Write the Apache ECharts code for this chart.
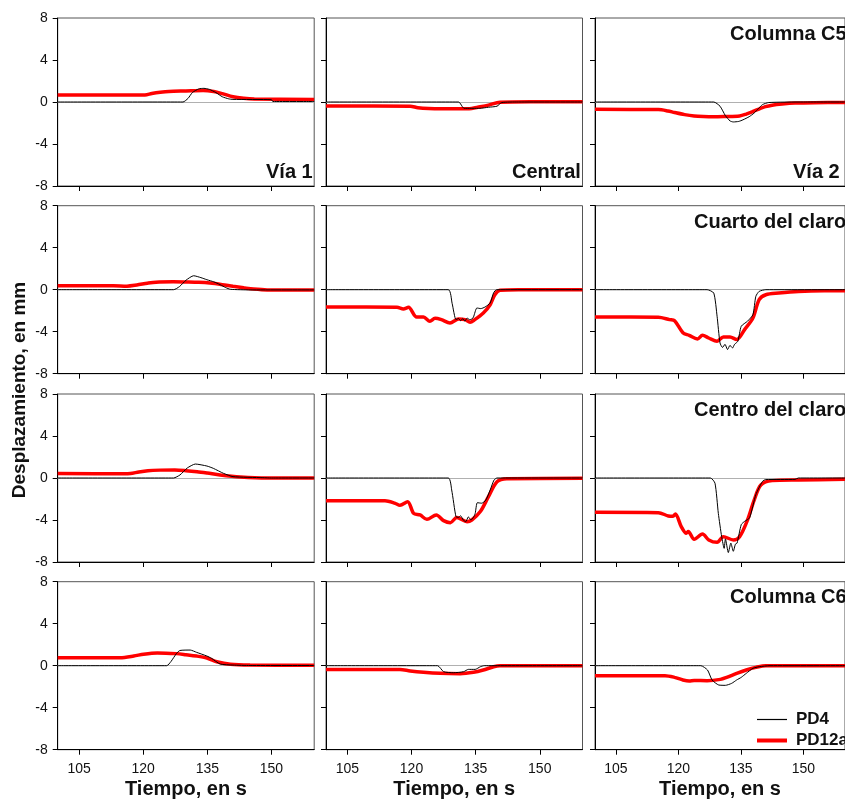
<!DOCTYPE html>
<html><head><meta charset="utf-8">
<script src="https://cdn.jsdelivr.net/npm/echarts@6/dist/echarts.min.js"></script>
<style>html,body{margin:0;padding:0;background:#fff}#c{width:845px;height:803px}</style>
</head><body><div id="c"></div>
<script>
// ---- axis ticks ----
const xTicks = [105, 120, 135, 150];
const yTicks = [-8, -4, 0, 4, 8];

// ---- data: [time s, displacement mm] ----
// Row 1: Columna C5
const via1_C5_PD4 = [[100,0],[129.3,0],[130.5,0.35],[131.5,0.9],[133,1.25],[134.2,1.3],[135.5,1.2],[137,0.9],[138.5,0.5],[140,0.3],[141,0.25],[150,0.22],[150.3,0.05],[160,0.05]];
const via1_C5_PD12a = [[100,0.67],[120.4,0.67],[122,0.8],[124,0.92],[126,1.0],[130,1.05],[134,1.1],[136.5,1.0],[138.5,0.8],[141,0.5],[143.5,0.35],[146,0.28],[160,0.25]];
const central_C5_PD4 = [[100,0],[131,0],[132.3,-0.6],[136,-0.6],[138,-0.5],[140,-0.4],[141.1,-0.05],[145,0],[160,0]];
const central_C5_PD12a = [[100,-0.38],[119.7,-0.4],[121.5,-0.55],[124,-0.62],[130.5,-0.65],[133.5,-0.65],[135.5,-0.5],[138,-0.3],[140.7,-0.02],[150,0.02],[160,0.03]];
const via2_C5_PD4 = [[100,0],[128.5,0],[130,-0.4],[131.3,-1.3],[132.4,-1.8],[133.2,-1.9],[134.5,-1.85],[135.5,-1.7],[137,-1.4],[138.2,-1.05],[139.3,-0.6],[140.2,-0.25],[141.7,-0.05],[150,0],[160,0]];
const via2_C5_PD12a = [[100,-0.7],[115.2,-0.72],[117.5,-0.85],[119.1,-1.0],[121.5,-1.2],[123.8,-1.33],[126,-1.38],[128.5,-1.4],[131,-1.38],[134.7,-1.33],[136.3,-1.15],[137.8,-0.92],[139.5,-0.65],[140.9,-0.44],[142.5,-0.3],[144.9,-0.19],[148,-0.1],[152.7,-0.06],[160,-0.05]];
// Row 2: Cuarto del claro
const via1_CU_PD4 = [[100,0],[127.1,0],[128.5,0.3],[130,0.9],[131.8,1.33],[133.5,1.15],[134.9,0.95],[136.5,0.75],[138,0.48],[139.3,0.2],[140.4,0.04],[145,-0.02],[160,-0.02]];
const via1_CU_PD12a = [[100,0.38],[113,0.38],[116.2,0.34],[118.5,0.45],[121,0.62],[123,0.72],[127,0.75],[130,0.73],[133,0.7],[135.6,0.63],[138.5,0.48],[141,0.32],[143.5,0.18],[145.8,0.06],[149,-0.02],[160,-0.02]];
const central_CU_PD4 = [[100,0],[128.6,0],[129.5,-1.3],[130.4,-2.85],[131,-2.75],[131.5,-2.95],[132,-2.75],[132.5,-3.0],[133,-2.7],[133.6,-2.85],[134.1,-2.8],[134.5,-2.6],[135.3,-1.74],[136.2,-1.8],[137.2,-1.65],[138.4,-1.27],[139.2,-0.3],[139.9,0],[160,0]];
const central_CU_PD12a = [[100,-1.65],[116.6,-1.68],[118.1,-1.84],[119.3,-1.68],[121.2,-2.6],[122.8,-2.6],[124.3,-3.0],[125.5,-2.72],[127,-2.85],[129,-3.17],[131,-2.79],[132.5,-2.85],[133.7,-3.1],[134.8,-2.85],[136.8,-2.22],[138.4,-1.43],[139.5,-0.48],[140.7,-0.06],[145,0],[160,0]];
const via2_CU_PD4 = [[100,0],[126.9,0],[128.5,-0.32],[129.3,-2.53],[130,-5.07],[130.6,-5.5],[131.2,-5.2],[131.8,-5.7],[132.4,-5.3],[133,-5.55],[133.5,-5.2],[134.3,-4.9],[135.1,-3.48],[136.6,-3.0],[137.9,-2.38],[138.6,-0.63],[139.4,-0.16],[141,0],[160,0]];
const via2_CU_PD12a = [[100,-2.6],[115.2,-2.62],[117.9,-2.85],[119.1,-2.95],[121.1,-4.1],[122.6,-4.34],[124.6,-4.69],[125.8,-4.34],[127.3,-4.6],[129.3,-4.9],[130.8,-4.5],[132.4,-4.5],[134,-4.75],[135.9,-3.8],[137.9,-2.7],[139.4,-0.95],[141,-0.48],[144.1,-0.32],[148.8,-0.16],[155,-0.1],[160,-0.1]];
// Row 3: Centro del claro
const via1_CE_PD4 = [[100,0],[127.1,0],[128.6,0.29],[130.3,0.95],[132.2,1.33],[134.9,1.14],[136.4,0.92],[138.8,0.44],[141,0.13],[148,0.03],[150,0],[160,0]];
const via1_CE_PD12a = [[100,0.44],[115.4,0.4],[117,0.42],[119,0.58],[121.1,0.7],[124,0.75],[127.4,0.76],[130,0.7],[132.6,0.6],[135,0.47],[138,0.29],[142.7,0.1],[149,0],[160,0]];
const central_CE_PD4 = [[100,0],[128.6,0],[129.4,-1.14],[130.4,-3.68],[131,-3.75],[131.5,-3.6],[132.1,-4.0],[132.7,-4.16],[133.3,-3.7],[133.9,-4.0],[134.5,-3.75],[134.9,-3.37],[135.4,-2.35],[136.4,-2.4],[137.4,-2.1],[138.4,-1.14],[139.3,-0.2],[140,0],[160,0]];
const central_CE_PD12a = [[100,-2.16],[113.8,-2.16],[116.2,-2.41],[117.3,-2.6],[119.1,-2.25],[120.5,-3.37],[122,-3.52],[123.6,-3.94],[125.8,-3.52],[127.5,-4.06],[129.1,-4.25],[130.6,-3.75],[133,-4.16],[134.1,-4.0],[136.1,-3.2],[138,-1.78],[140,-0.35],[142.3,-0.06],[160,-0.03]];
const via2_CE_PD4 = [[100,0],[127.7,0],[128.8,-0.5],[129.6,-3.37],[130.4,-5.59],[131,-6.7],[131.3,-5.8],[132,-7.1],[132.6,-6.2],[133.2,-6.98],[133.7,-6.3],[134.1,-6.2],[135.1,-4.44],[135.9,-4.13],[137.1,-3.8],[138.6,-1.59],[140.2,-0.32],[141,-0.15],[148,-0.13],[148.8,0],[160,0]];
const via2_CE_PD12a = [[100,-3.27],[115.2,-3.3],[117.6,-3.62],[118.7,-3.65],[119.3,-3.43],[120.7,-4.63],[121.9,-5.27],[122.4,-5.1],[123.8,-5.84],[125.8,-5.33],[127.3,-5.9],[129.3,-6.13],[130.8,-5.59],[133.2,-5.9],[134.7,-5.59],[136.6,-4.0],[138.2,-2.1],[139.8,-0.67],[142.5,-0.25],[148.8,-0.19],[160,-0.13]];
// Row 4: Columna C6
const via1_C6_PD4 = [[100,0],[125.5,0],[126.5,0.4],[127.8,1.17],[128.6,1.45],[131,1.49],[132.5,1.27],[134.9,0.92],[136,0.7],[138,0.16],[141,0.06],[145,0.02],[160,0.02]];
const via1_C6_PD12a = [[100,0.76],[114.6,0.76],[117.8,0.92],[120.1,1.1],[123.3,1.22],[127.8,1.15],[130,1.05],[132.5,0.92],[134.9,0.73],[137.2,0.38],[140.4,0.13],[145,0.06],[160,0.05]];
const central_C6_PD4 = [[100,0],[126.1,0],[127.5,-0.57],[129.8,-0.67],[132.2,-0.57],[133.3,-0.35],[134.9,-0.35],[136.1,-0.1],[137,0],[160,0]];
const central_C6_PD12a = [[100,-0.35],[117.3,-0.35],[119.7,-0.5],[122.8,-0.63],[126.7,-0.73],[131.4,-0.76],[134.5,-0.63],[136.8,-0.41],[139.2,-0.1],[140.7,0],[160,0]];
const via2_C6_PD4 = [[100,0],[125.4,0],[127,-0.41],[128.1,-1.36],[129.7,-1.84],[131.3,-1.87],[132.8,-1.68],[134,-1.36],[135.1,-1.11],[136.3,-0.73],[137.9,-0.25],[139.4,-0.1],[142,0],[160,0]];
const via2_C6_PD12a = [[100,-0.95],[116.8,-0.95],[119.1,-1.11],[121.1,-1.36],[122.6,-1.46],[123.8,-1.4],[126.9,-1.43],[130.1,-1.3],[131.6,-1.11],[134,-0.73],[136.3,-0.41],[138.6,-0.16],[141,0],[160,0]];

const panelPD4 = [via1_C5_PD4, central_C5_PD4, via2_C5_PD4, via1_CU_PD4, central_CU_PD4, via2_CU_PD4, via1_CE_PD4, central_CE_PD4, via2_CE_PD4, via1_C6_PD4, central_C6_PD4, via2_C6_PD4];
const panelPD12a = [via1_C5_PD12a, central_C5_PD12a, via2_C5_PD12a, via1_CU_PD12a, central_CU_PD12a, via2_CU_PD12a, via1_CE_PD12a, central_CE_PD12a, via2_CE_PD12a, via1_C6_PD12a, central_C6_PD12a, via2_C6_PD12a];

const seriesNames = ['PD4', 'PD12a'];
const xTitle = 'Tiempo, en s';
const yTitle = 'Desplazamiento, en mm';

// ---- layout ----
const colLeft = [57.7, 326, 595];
const rowTop = [18, 205.7, 394, 581.7];
const W = 256.5, H = 168;
const FONT = '"Liberation Sans", Arial, sans-serif';

const grids = [], xAxes = [], yAxes = [], series = [];
for (let r = 0; r < 4; r++) {
  for (let c = 0; c < 3; c++) {
    const i = r * 3 + c;
    grids.push({ left: colLeft[c], top: rowTop[r], width: W, height: H, show: true, borderColor: '#555', borderWidth: 1, containLabel: false });
    xAxes.push({
      type: 'value', gridIndex: i, min: 100, max: 160,
      axisLine: { show: true, onZero: false, lineStyle: { color: '#000', width: 1 } },
      axisTick: { show: true, customValues: xTicks, length: 5, lineStyle: { color: '#000' } },
      axisLabel: { show: r === 3, customValues: xTicks, fontSize: 14, color: '#111', fontFamily: FONT, margin: 12 },
      splitLine: { show: false },
      name: r === 3 ? xTitle : '', nameLocation: 'middle', nameGap: 30,
      nameTextStyle: { fontSize: 20, fontWeight: 'bold', color: '#111', fontFamily: FONT }
    });
    yAxes.push({
      type: 'value', gridIndex: i, min: -8, max: 8, interval: 4,
      axisLine: { show: true, onZero: false, lineStyle: { color: '#000', width: 1 } },
      axisTick: { show: true, length: 5, lineStyle: { color: '#000' } },
      axisLabel: { show: c === 0, fontSize: 14, color: '#111', fontFamily: FONT, margin: 10 },
      splitLine: { show: false }
    });
    series.push({
      type: 'line', name: seriesNames[1], xAxisIndex: i, yAxisIndex: i, data: panelPD12a[i],
      symbol: 'none', smooth: 0.3, lineStyle: { color: '#ff0000', width: 3.5 }, itemStyle: { color: '#ff0000' }, z: 2,
      markLine: { silent: true, symbol: 'none', z: 1, label: { show: false }, lineStyle: { color: '#b0b0b0', width: 1, type: 'solid' }, data: [{ yAxis: 0 }], animation: false }
    });
    series.push({
      type: 'line', name: seriesNames[0], xAxisIndex: i, yAxisIndex: i, data: panelPD4[i],
      symbol: 'none', smooth: 0.2, lineStyle: { color: '#000', width: 1 }, itemStyle: { color: '#000' }, z: 3
    });
  }
}

const titleFont = 'bold 20px ' + FONT;
const panelTitles = [
  { text: 'Vía 1', x: 266, y: 172 },
  { text: 'Central', x: 512, y: 172 },
  { text: 'Vía 2', x: 793, y: 172 },
  { text: 'Columna C5', x: 730, y: 34 },
  { text: 'Cuarto del claro', x: 694, y: 222 },
  { text: 'Centro del claro', x: 694, y: 410 },
  { text: 'Columna C6', x: 730, y: 597 }
];
const graphic = panelTitles.map(t => ({ type: 'text', x: t.x, y: t.y, z: 10, style: { text: t.text, font: titleFont, fill: '#111', align: 'left', verticalAlign: 'middle' } }));
graphic.push({ type: 'text', x: 20, y: 390, rotation: Math.PI / 2, z: 10, style: { text: yTitle, font: 'bold 19px ' + FONT, fill: '#111', align: 'center', verticalAlign: 'middle' } });

const chart = echarts.init(document.getElementById('c'));
chart.setOption({
  animation: false,
  backgroundColor: '#fff',
  grid: grids, xAxis: xAxes, yAxis: yAxes, series: series, graphic: graphic,
  legend: {
    data: [
      { name: seriesNames[0], icon: 'path://M0 0H30V1.2H0Z' },
      { name: seriesNames[1], icon: 'path://M0 0H30V4H0Z' }
    ],
    orient: 'vertical', left: 752, top: 706, itemWidth: 30, itemHeight: 14, itemGap: 4,
    textStyle: { fontSize: 17, fontWeight: 'bold', color: '#111', fontFamily: FONT, lineHeight: 14, padding: [0, 0, 0, 4] },
    selectedMode: false
  }
});
</script></body></html>
